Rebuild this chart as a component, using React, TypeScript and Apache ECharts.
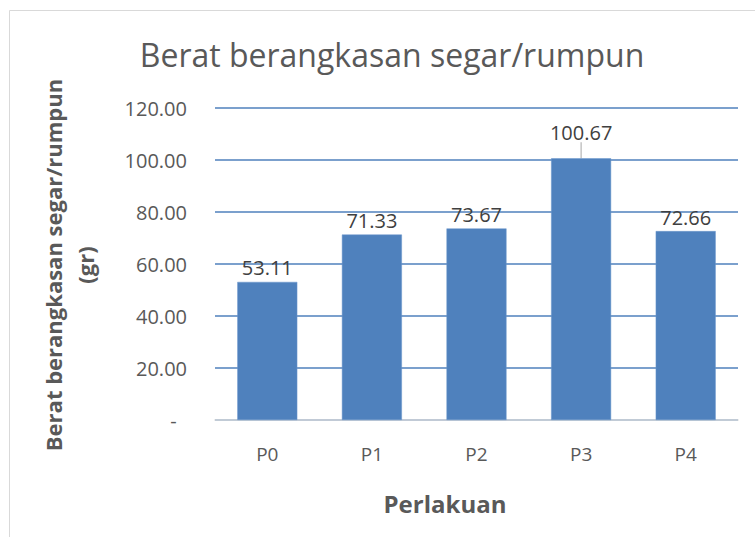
import React, { useEffect, useRef } from "react";
import * as echarts from "echarts";

const categories = ["P0", "P1", "P2", "P3", "P4"];
const values = [53.11, 71.33, 73.67, 100.67, 72.66];
const yTicks = [0, 20, 40, 60, 80, 100, 120];
const titleText = "Berat berangkasan segar/rumpun";
const yAxisTitle = "Berat berangkasan segar/rumpun\n(gr)";
const xAxisTitle = "Perlakuan";

const FONT = "'Open Sans', 'Noto Sans', sans-serif";

export default function App() {
  const ref = useRef<HTMLDivElement>(null);
  useEffect(() => {
    if (!ref.current) return;
    const chart = echarts.init(ref.current, null, { renderer: "svg" });
    chart.setOption({
      animation: false,
      backgroundColor: "#ffffff",
      title: {
        text: titleText,
        left: 387,
        top: 33,
        textAlign: "center",
        textStyle: { fontFamily: FONT, fontSize: 32, fontWeight: "normal", color: "#595959" },
      },
      graphic: [
        {
          type: "rect",
          shape: { x: 9.5, y: 10.5, width: 800, height: 600 },
          style: { fill: "none", stroke: "#D9D9D9", lineWidth: 1 },
          silent: true,
        },
        {
          type: "text",
          x: 445,
          y: 503,
          style: {
            text: xAxisTitle,
            fontFamily: FONT,
            fontSize: 24,
            fontWeight: "bold",
            fill: "#595959",
            align: "center",
            verticalAlign: "middle",
          },
          silent: true,
        },
        {
          type: "text",
          x: 69,
          y: 265,
          rotation: Math.PI / 2,
          style: {
            text: yAxisTitle,
            fontFamily: FONT,
            fontSize: 22,
            fontWeight: "bold",
            fill: "#595959",
            align: "center",
            verticalAlign: "middle",
            lineHeight: 32,
          },
          silent: true,
        },
      ],
      grid: { left: 215, right: 17, top: 108, bottom: 117, outerBoundsMode: "none", containLabel: false },
      xAxis: {
        type: "category",
        data: categories,
        axisLine: { show: true, lineStyle: { color: "#D9D9D9", width: 1.5 } },
        axisTick: { show: false },
        axisLabel: { fontFamily: FONT, fontSize: 19, color: "#595959", margin: 24 },
      },
      yAxis: {
        type: "value",
        min: 0,
        max: 120,
        interval: 20,
        axisLine: { show: false },
        axisTick: { show: false },
        splitLine: { show: true, lineStyle: { color: "#4F81BD", width: 1.5 } },
        axisLabel: {
          fontFamily: FONT,
          fontSize: 20,
          color: "#595959",
          margin: 28,
          formatter: (v: number) => (yTicks.includes(v) && v === 0 ? "-  " : v.toFixed(2)),
        },
      },
      series: [
        {
          type: "bar",
          data: values.map((v, i) =>
            i === 3 ? { value: v, labelLine: { show: true } } : { value: v }
          ),
          barWidth: 60,
          itemStyle: { color: "#4F81BD", borderColor: "#6A96CC", borderWidth: 0.5 },
          label: {
            show: true,
            position: "top",
            distance: 4,
            fontFamily: FONT,
            fontSize: 20,
            color: "#404040",
            formatter: (p: any) => p.value.toFixed(2),
          },
          labelLayout: (p: any) => (p.dataIndex === 3 ? { dy: -12 } : {}),
          labelLine: { show: false, lineStyle: { color: "#A6A6A6", width: 1 } },
        },
      ],
    });
    return () => chart.dispose();
  }, []);
  return <div ref={ref} style={{ position: "fixed", left: 0, top: 0, width: 755, height: 537 }} />;
}
